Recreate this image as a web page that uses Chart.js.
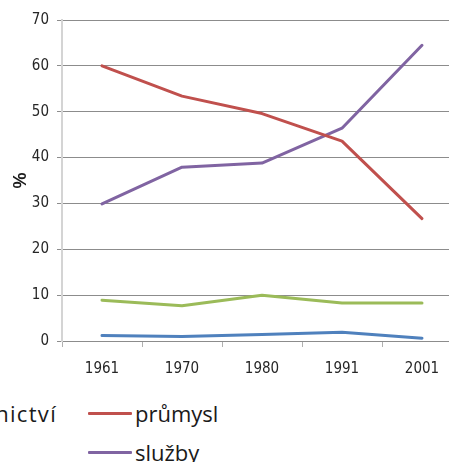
<!DOCTYPE html>
<html>
<head>
<meta charset="utf-8">
<script src="https://cdn.jsdelivr.net/npm/chart.js@4.4.1/dist/chart.umd.min.js"></script>
<style>
  html, body { margin: 0; padding: 0; background: #fff; }
  #wrap { position: relative; width: 449px; height: 462px; overflow: hidden; background: #fff; }
  #c { position: absolute; left: 0; top: 0; }
  .row { position: absolute; white-space: nowrap; font-family: "Open Sans", sans-serif; font-size: 22px; color: #1a1a1a; display: flex; align-items: center; height: 30px; }
  .item { display: inline-flex; align-items: center; }
  .sw { display: inline-block; width: 44px; height: 3px; margin-right: 3px; border-radius: 1px; }
</style>
</head>
<body>
<div id="wrap">
  <canvas id="c" width="470" height="385" style="width:470px;height:385px"></canvas>
  <div id="legend"></div>
</div>
<script>
const categories = ["1961", "1970", "1980", "1991", "2001"];
const seriesNames = ["zemědělství a lesnictví", "průmysl", "stavebnictví", "služby"];
const zemedelstvi = [1.2, 1.0, 1.4, 1.9, 0.6];
const prumysl = [60.0, 53.4, 49.6, 43.6, 26.7];
const stavebnictvi = [8.9, 7.7, 10.0, 8.3, 8.3];
const sluzby = [29.9, 37.9, 38.8, 46.4, 64.5];
const yTicks = [0, 10, 20, 30, 40, 50, 60, 70];
const colors = ["#4F81BD", "#C0504D", "#9BBB59", "#8064A2"];

const tickFont = { family: "'Liberation Sans Narrow', 'DejaVu Sans Condensed', 'Liberation Sans', sans-serif", size: 15 };

const seriesData = [zemedelstvi, prumysl, stavebnictvi, sluzby];
const datasets = seriesData.map((d, i) => ({
  label: seriesNames[i],
  data: d,
  borderColor: colors[i],
  backgroundColor: colors[i],
  borderWidth: 3,
  pointRadius: 0,
  tension: 0,
  borderCapStyle: 'round',
  borderJoinStyle: 'round',
  fill: false
}));

new Chart(document.getElementById('c'), {
  type: 'line',
  data: { labels: categories, datasets },
  options: {
    responsive: false,
    devicePixelRatio: 1,
    animation: false,
    layout: { padding: { top: 20, right: 8, left: 0, bottom: 0 } },
    plugins: { legend: { display: false }, tooltip: { enabled: false } },
    scales: {
      x: {
        offset: true,
        grid: { drawOnChartArea: false, drawTicks: true, tickLength: 6, tickColor: '#b0b0b0', offset: true },
        border: { color: '#8c8c8c', width: 1 },
        ticks: { font: tickFont, color: '#262626', padding: 13, maxRotation: 0 },
        afterFit: s => { s.height = 44; }
      },
      y: {
        min: 0, max: 70,
        afterBuildTicks: s => { s.ticks = yTicks.map(v => ({ value: v })); },
        grid: { color: '#8c8c8c', lineWidth: 1, tickLength: 5, tickColor: '#8c8c8c' },
        border: { color: '#d4d4d4', width: 2 },
        ticks: { font: tickFont, color: '#262626', padding: 8 },
        title: { display: true, text: '%', font: { family: "'Liberation Sans', sans-serif", size: 18, weight: 'bold' }, color: '#1a1a1a', padding: { top: 10, bottom: 0 } },
        afterFit: s => { s.width = 62; }
      }
    }
  }
});

// Legend (HTML), cropped like the reference
const legend = document.getElementById('legend');
function item(i, extra) {
  return '<span class="item"><span class="sw" style="background:' + colors[i] + '"></span><span style="' + (extra || '') + '">' + seriesNames[i] + '</span></span>';
}
legend.innerHTML =
  '<div class="row" style="right:392px;top:398px;">' + item(0) + '<span style="display:inline-block;width:30px"></span>' + item(2, 'letter-spacing:1.3px') + '</div>' +
  '<div class="row" style="left:88px;top:398px;">' + item(1) + '</div>' +
  '<div class="row" style="left:88px;top:437px;">' + item(3) + '</div>';
</script>
</body>
</html>
